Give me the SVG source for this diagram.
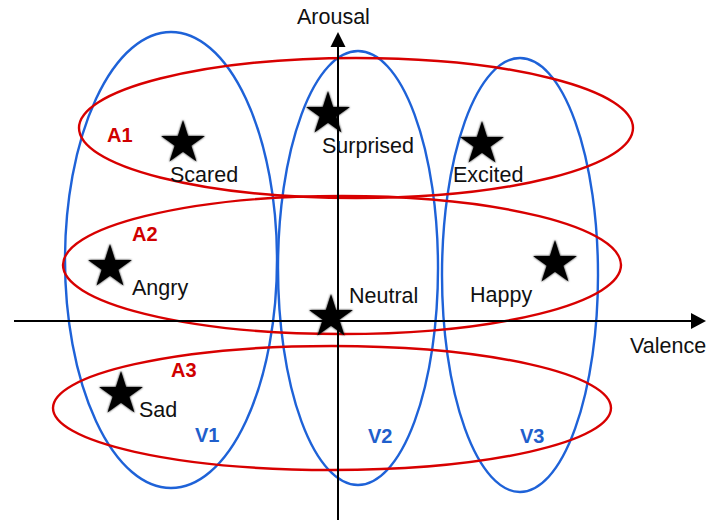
<svg xmlns="http://www.w3.org/2000/svg" width="710" height="520" viewBox="0 0 710 520">
<style>
.v{fill:none;stroke:#1e62d8;stroke-width:2.4}
.a{fill:none;stroke:#d80000;stroke-width:2.4}
.t{font-family:"Liberation Sans",Arial,sans-serif;font-size:21.5px;fill:#111}
.rl{font-family:"Liberation Sans",Arial,sans-serif;font-size:20px;font-weight:bold;fill:#d00000}
.bl{font-family:"Liberation Sans",Arial,sans-serif;font-size:20px;font-weight:bold;fill:#1f5fcc}
.ax{stroke:#000;stroke-width:2;fill:none}
</style>
<defs>
<filter id="sh" x="-30%" y="-30%" width="160%" height="160%"><feGaussianBlur stdDeviation="0.9"/></filter>
<path id="star" d="M0,-23 L5.1,-7.1 L21.9,-7.1 L8.3,2.7 L13.5,18.6 L0,8.8 L-13.5,18.6 L-8.3,2.7 L-21.9,-7.1 L-5.1,-7.1 Z"/>
</defs>
<rect width="710" height="520" fill="#fff"/>
<g id="ellipses">
<ellipse id="V1" class="v" cx="171" cy="260" rx="106" ry="228"/>
<ellipse id="V2" class="v" cx="358" cy="268" rx="80" ry="217"/>
<ellipse id="V3" class="v" cx="520" cy="275" rx="78" ry="217"/>
<ellipse id="A1" class="a" cx="356" cy="128" rx="277" ry="70"/>
<ellipse id="A2" class="a" cx="342" cy="265" rx="279" ry="69"/>
<ellipse id="A3" class="a" cx="332" cy="408" rx="279" ry="62"/>
</g>
<g id="connectors">
<line class="ax" x1="14" y1="321" x2="692" y2="321"/>
<polygon points="706,321 691,313 691,329" fill="#000"/>
<line class="ax" x1="338" y1="520" x2="338" y2="46"/>
<polygon points="338,32 330.5,47 345.5,47" fill="#000"/>
</g>
<g id="stars" fill="#000">
<g id="s-scared"><use href="#star" x="183" y="143" filter="url(#sh)"/><use href="#star" x="183" y="143"/></g>
<g id="s-surprised"><use href="#star" x="328" y="114" filter="url(#sh)"/><use href="#star" x="328" y="114"/></g>
<g id="s-excited"><use href="#star" x="482" y="144" filter="url(#sh)"/><use href="#star" x="482" y="144"/></g>
<g id="s-angry"><use href="#star" x="110" y="267" filter="url(#sh)"/><use href="#star" x="110" y="267"/></g>
<g id="s-happy"><use href="#star" x="555" y="263" filter="url(#sh)"/><use href="#star" x="555" y="263"/></g>
<g id="s-neutral"><use href="#star" x="331" y="317" filter="url(#sh)"/><use href="#star" x="331" y="317"/></g>
<g id="s-sad"><use href="#star" x="121" y="394" filter="url(#sh)"/><use href="#star" x="121" y="394"/></g>
</g>
<g id="labels">
<text class="t" x="297" y="24">Arousal</text>
<text class="t" x="630" y="353">Valence</text>
<text class="t" x="170" y="182">Scared</text>
<text class="t" x="322" y="153">Surprised</text>
<text class="t" x="453" y="182">Excited</text>
<text class="t" x="132" y="295">Angry</text>
<text class="t" x="349" y="303">Neutral</text>
<text class="t" x="470" y="302">Happy</text>
<text class="t" x="139" y="417">Sad</text>
<text class="rl" x="107" y="142">A1</text>
<text class="rl" x="132" y="241">A2</text>
<text class="rl" x="171" y="377">A3</text>
<text class="bl" x="195" y="442">V1</text>
<text class="bl" x="368" y="443">V2</text>
<text class="bl" x="520" y="443">V3</text>
</g>
</svg>
